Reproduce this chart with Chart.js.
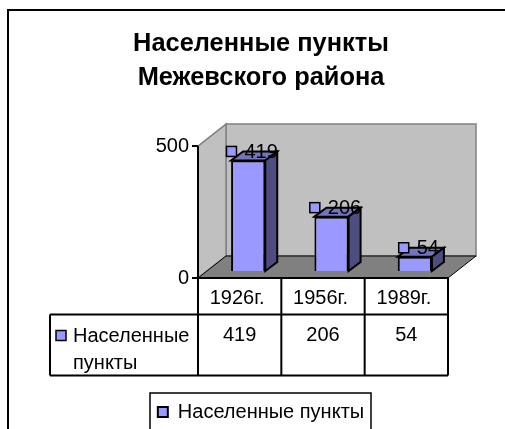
<!DOCTYPE html>
<html lang="ru">
<head>
  <meta charset="UTF-8" />
  <title>Населенные пункты Межевского района</title>
  <script src="https://cdn.jsdelivr.net/npm/chart.js"></script>
  <style>
    html, body { margin: 0; padding: 0; background: #fff; overflow: hidden; }
    #box { width: 505px; height: 429px; }
  </style>
</head>
<body>
  <div id="box"><canvas id="chart" width="505" height="429"></canvas></div>
  <script>
    const categories = ['1926г.', '1956г.', '1989г.'];
    const seriesName = 'Населенные пункты';
    const seriesNameLines = ['Населенные', 'пункты'];
    const seriesValues = [419, 206, 54];
    const titleLines = ['Населенные пункты', 'Межевского района'];

    const FONT = '"Liberation Sans", Arial, sans-serif';
    const BAR = '#9999ff', BAR_SIDE = '#4d4d80', BAR_TOP = '#7373bf';
    const WALL = '#c0c0c0', FLOOR = '#808080', WALL_LINE = '#808080', INK = '#000';

    // глубина стенок и смещение столбиков внутри неё
    const wallDx = 28, wallDy = 22;
    const barDx = 8.5, barDy = 7;
    const sideDx = 12, sideDy = 9;
    // таблица данных под осью
    const rowA = 36.5, rowB = 61, tableLeft = 50;

    function poly(ctx, pts, fill, stroke, lw) {
      ctx.beginPath();
      pts.forEach((p, i) => i ? ctx.lineTo(p[0], p[1]) : ctx.moveTo(p[0], p[1]));
      ctx.closePath();
      if (fill) { ctx.fillStyle = fill; ctx.fill(); }
      if (stroke) { ctx.strokeStyle = stroke; ctx.lineWidth = lw || 1; ctx.stroke(); }
    }

    function swatch(ctx, x, y) {
      ctx.fillStyle = BAR;
      ctx.strokeStyle = INK;
      ctx.lineWidth = 1.5;
      ctx.fillRect(x, y, 10, 10);
      ctx.strokeRect(x, y, 10, 10);
    }

    const scene = {
      id: 'scene',
      beforeDraw(chart) {
        const ctx = chart.ctx;
        const { left, right, top, bottom } = chart.chartArea;
        ctx.save();
        // рамка диаграммы
        ctx.fillStyle = INK;
        ctx.fillRect(7, 9, 2, chart.height - 9);
        ctx.fillRect(7, 9, chart.width - 7, 2);
        // стенки и пол
        poly(ctx, [[left + wallDx, top - wallDy], [right + wallDx, top - wallDy], [right + wallDx, bottom - wallDy], [left + wallDx, bottom - wallDy]], WALL, WALL_LINE, 1.5);
        poly(ctx, [[left, top], [left + wallDx, top - wallDy], [left + wallDx, bottom - wallDy], [left, bottom]], WALL, WALL_LINE, 1.5);
        poly(ctx, [[left, bottom], [left + wallDx, bottom - wallDy], [right + wallDx, bottom - wallDy], [right, bottom]], FLOOR, INK, 1);
        ctx.restore();
      },
      beforeDatasetsDraw(chart) {
        // грани столбиков рисуем под передней гранью
        const ctx = chart.ctx;
        ctx.save();
        chart.getDatasetMeta(0).data.forEach(el => {
          const r = el.x + el.width / 2 + barDx, l = el.x - el.width / 2 + barDx;
          const t = el.y - barDy, b = el.base - barDy;
          poly(ctx, [[l, t], [l + sideDx, t - sideDy], [r + sideDx, t - sideDy], [r, t]], BAR_TOP, INK, 2);
          poly(ctx, [[r, t], [r + sideDx, t - sideDy], [r + sideDx, b - sideDy], [r, b]], BAR_SIDE, INK, 2);
        });
        ctx.restore();
        ctx.save();
        ctx.translate(barDx, -barDy);
      },
      afterDatasetsDraw(chart) {
        const ctx = chart.ctx;
        ctx.restore();
        const { left, right, top, bottom } = chart.chartArea;
        const x = chart.scales.x;
        ctx.save();
        // подписи значений с маркером
        ctx.font = '20px ' + FONT;
        ctx.textBaseline = 'middle';
        ctx.textAlign = 'left';
        chart.getDatasetMeta(0).data.forEach((el, i) => {
          const label = String(seriesValues[i]);
          const w = ctx.measureText(label).width;
          const tx = el.x + barDx + 13 - w / 2, y = el.y - barDy;
          swatch(ctx, tx - 18, y - 14);
          ctx.fillStyle = INK;
          ctx.fillText(label, tx, y - 8);
        });
        // таблица данных
        const step = x.getPixelForValue(1) - x.getPixelForValue(0);
        ctx.strokeStyle = INK;
        ctx.lineWidth = 2;
        ctx.beginPath();
        ctx.moveTo(left, bottom); ctx.lineTo(right, bottom);
        ctx.moveTo(tableLeft, bottom + rowA); ctx.lineTo(right, bottom + rowA);
        ctx.moveTo(tableLeft, bottom + rowA + rowB); ctx.lineTo(right, bottom + rowA + rowB);
        ctx.moveTo(tableLeft, bottom + rowA); ctx.lineTo(tableLeft, bottom + rowA + rowB);
        ctx.moveTo(left, top); ctx.lineTo(left, bottom + rowA + rowB);
        ctx.moveTo(right, bottom); ctx.lineTo(right, bottom + rowA + rowB);
        categories.slice(1).forEach((_, i) => {
          const gx = x.getPixelForValue(i) + step / 2;
          ctx.moveTo(gx, bottom); ctx.lineTo(gx, bottom + rowA + rowB);
        });
        ctx.moveTo(left - 6, top); ctx.lineTo(left, top);
        ctx.moveTo(left - 6, bottom); ctx.lineTo(left, bottom);
        ctx.stroke();
        ctx.fillStyle = INK;
        ctx.textBaseline = 'alphabetic';
        seriesValues.forEach((v, i) => {
          ctx.textAlign = 'center';
          ctx.fillText(String(v), x.getPixelForValue(i), bottom + rowA + 26);
        });
        ctx.textAlign = 'left';
        swatch(ctx, tableLeft + 6, bottom + rowA + 16);
        ctx.fillStyle = INK;
        ctx.fillText(seriesNameLines[0], tableLeft + 23, bottom + rowA + 27);
        ctx.fillText(seriesNameLines[1], tableLeft + 23, bottom + rowA + 54);
        // рамка легенды
        ctx.strokeRect(150, chart.legend.top, 221, chart.height - chart.legend.top + 4);
        ctx.restore();
      }
    };

    new Chart(document.getElementById('chart'), {
      type: 'bar',
      data: {
        labels: categories,
        datasets: [{
          label: seriesName,
          data: seriesValues,
          backgroundColor: BAR,
          borderColor: INK,
          borderWidth: 2,
          categoryPercentage: 1,
          barPercentage: 0.41
        }]
      },
      options: {
        responsive: false,
        animation: false,
        layout: { padding: { left: 74, right: 57, top: 27.5, bottom: -3 } },
        plugins: {
          tooltip: { enabled: false },
          title: {
            display: true,
            text: titleLines,
            color: INK,
            font: { family: FONT, size: 25.4, weight: 'bold', lineHeight: 1.33 },
            padding: { top: 0, bottom: 51 }
          },
          legend: {
            position: 'bottom',
            labels: {
              color: INK,
              font: { family: FONT, size: 20 },
              boxWidth: 10,
              boxHeight: 10,
              padding: 9
            }
          }
        },
        scales: {
          x: {
            grid: { display: false, drawTicks: false },
            border: { display: false },
            ticks: { color: INK, font: { family: FONT, size: 20 }, maxRotation: 0, padding: 8, labelOffset: -2.5 },
            afterFit(scale) { scale.height = 115; }
          },
          y: {
            min: 0,
            max: 500,
            grid: { display: false, drawTicks: false },
            border: { display: false },
            ticks: { color: INK, stepSize: 500, font: { family: FONT, size: 20 }, padding: 9 },
            afterFit(scale) { scale.width = 124; }
          }
        }
      },
      plugins: [scene]
    });
  </script>
</body>
</html>
